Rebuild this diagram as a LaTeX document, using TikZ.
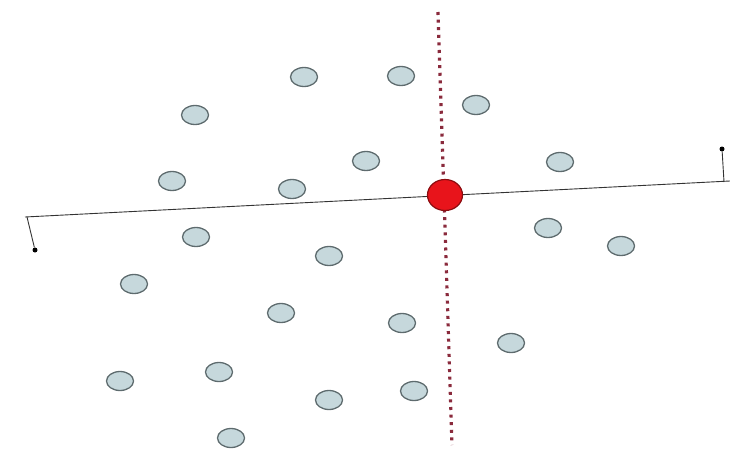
\documentclass[tikz,border=0pt]{standalone}
\usepackage{xcolor}
\definecolor{cPoint}{HTML}{C6D8DC}
\definecolor{cEdge}{HTML}{5E6B6E}
\definecolor{cHub}{HTML}{E8141B}
\definecolor{cCut}{HTML}{8A2A3C}
\usepackage{tikz}
\usetikzlibrary{positioning,arrows.meta,shapes.geometric}
\tikzset{
  node-pt/.style={draw=cEdge,line width=1.3pt,ellipse,fill=cPoint,
    minimum width=27pt,minimum height=19pt,inner sep=0pt},
  node-hub/.style={ellipse,fill=cHub,draw=cHub!60!black,line width=1.2pt,
    minimum width=35pt,minimum height=31pt,inner sep=0pt},
  node-end/.style={circle,fill=black,minimum size=5pt,inner sep=0pt},
  line-axis/.style={line width=0.9pt,draw=black!80},
  line-cut/.style={draw=cCut,line width=3.2pt,dash pattern=on 3pt off 4.6pt},
}
\begin{document}
\begin{tikzpicture}[x=1pt,y=-1pt]
  \useasboundingbox (0,0) rectangle (730,453);
  % cut line (red, dotted)
  \coordinate (cut-top) at (438,12);
  \coordinate (cut-bot) at (452,445);
  \draw[line-cut] (cut-top) -- (cut-bot);
  % sample points
  \foreach \x/\y [count=\i] in {304/77,401/76,476/105,195/115,366/161,
      560/162,172/181,292/189,196/237,548/228,621/246,329/256,134/284,
      281/313,402/323,511/343,120/381,219/372,329/400,414/391,231/438}
    \node[node-pt] (p\i) at (\x,\y) {};
  % axis with its end marks
  \coordinate (ax-l) at (25,217);
  \coordinate (ax-r) at (730,181);
  \coordinate (tk-l) at (27,217);
  \coordinate (tk-r) at (724,182);
  \node[node-end] (end-l) at (35,250) {};
  \node[node-end] (end-r) at (722,149) {};
  \draw[line-axis] (ax-l) -- (ax-r);
  \draw[line-axis] (tk-l) -- (end-l);
  \draw[line-axis] (tk-r) -- (end-r);
  \node[node-hub] (hub) at (445,195) {};
\end{tikzpicture}
\end{document}
